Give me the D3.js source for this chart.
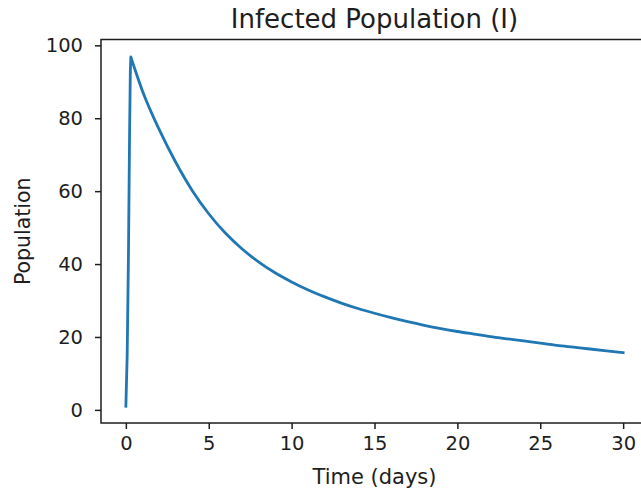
<!DOCTYPE html>
<html>
<head>
<meta charset="utf-8">
<script src="https://cdn.jsdelivr.net/npm/d3@7"></script>
<style>
  html, body { margin: 0; padding: 0; background: #fff; }
  svg { display: block; font-family: "DejaVu Sans", sans-serif; }
</style>
</head>
<body>
<svg id="chart" width="641" height="494"></svg>
<script>
// Infected compartment I(t) of the epidemic model, sampled in days
const timeDays = [0, 0.08, 0.16, 0.22, 0.27, 0.3, 1, 2, 3, 4, 5, 6, 7, 8, 9, 10,
  11, 12, 13, 14, 15, 16, 17, 18, 19, 20, 21, 22, 23, 24, 25, 26, 27, 28, 29, 30];
const infected = [1.0, 15, 44, 74, 93, 96.8, 87.5, 77, 68, 60.2, 53.8, 48.5, 44.2, 40.6, 37.6, 35.1,
  32.9, 31.0, 29.3, 27.8, 26.5, 25.3, 24.2, 23.2, 22.3, 21.5, 20.8, 20.1, 19.5, 18.9, 18.3, 17.7, 17.2, 16.7, 16.2, 15.7];
const xTicks = [0, 5, 10, 15, 20, 25, 30];
const yTicks = [0, 20, 40, 60, 80, 100];

const chartTitle = "Infected Population (I)";
const xLabel = "Time (days)";
const yLabel = "Population";

const svg = d3.select("#chart");
const plot = { left: 101, right: 648, top: 39.5, bottom: 423 };

const x = d3.scaleLinear().domain([-1.5, 31.5]).range([plot.left, plot.right]);
const y = d3.scaleLinear().domain([-3.6, 101.6]).range([plot.bottom, plot.top]);

const ink = "#1e1e1e";

// curve: sharp outbreak up to the peak, smooth decay after it
const points = timeDays.map((t, i) => [t, infected[i]]);
const peakIdx = d3.maxIndex(infected);
const rising = points.slice(0, peakIdx + 1);
const decaying = points.slice(peakIdx);

const riseLine = d3.line().x(d => x(d[0])).y(d => y(d[1])).curve(d3.curveLinear);
const decayLine = d3.line().x(d => x(d[0])).y(d => y(d[1])).curve(d3.curveMonotoneX);

const pathD = riseLine(rising) + decayLine(decaying).replace(/^M[^CLZ]*/, "");

svg.append("path")
  .attr("d", pathD)
  .attr("fill", "none")
  .attr("stroke", "#1f77b4")
  .attr("stroke-width", 2.8)
  .attr("stroke-linejoin", "round")
  .attr("stroke-linecap", "square");

// axes
const xAxis = d3.axisBottom(x).tickValues(xTicks).tickFormat(d3.format("d"))
  .tickSize(6).tickPadding(6);
const yAxis = d3.axisLeft(y).tickValues(yTicks).tickFormat(d3.format("d"))
  .tickSize(6).tickPadding(12);

const gx = svg.append("g").attr("transform", `translate(0,${plot.bottom})`).call(xAxis);
const gy = svg.append("g").attr("transform", `translate(${plot.left},0)`).call(yAxis);

[gx, gy].forEach(g => {
  g.select(".domain").remove();
  g.selectAll(".tick line").attr("stroke", ink).attr("stroke-width", 1.5);
  g.selectAll(".tick text").attr("fill", ink).style("font-size", "19.5px")
    .style("font-family", "'DejaVu Sans', sans-serif");
});
gx.selectAll(".tick text").attr("dy", "0.75em");

// frame
svg.append("rect")
  .attr("x", plot.left).attr("y", plot.top)
  .attr("width", plot.right - plot.left).attr("height", plot.bottom - plot.top)
  .attr("fill", "none").attr("stroke", ink).attr("stroke-width", 1.5);

// title and labels
const cx = (plot.left + plot.right) / 2;
svg.append("text")
  .attr("x", cx).attr("y", 28)
  .attr("text-anchor", "middle")
  .attr("fill", ink)
  .style("font-size", "26px")
  .text(chartTitle);

svg.append("text")
  .attr("x", cx).attr("y", 484)
  .attr("text-anchor", "middle")
  .attr("fill", ink)
  .style("font-size", "21px")
  .text(xLabel);

svg.append("text")
  .attr("transform", `translate(30,${(plot.top + plot.bottom) / 2}) rotate(-90)`)
  .attr("text-anchor", "middle")
  .attr("fill", ink)
  .style("font-size", "20.5px")
  .text(yLabel);
</script>
</body>
</html>
